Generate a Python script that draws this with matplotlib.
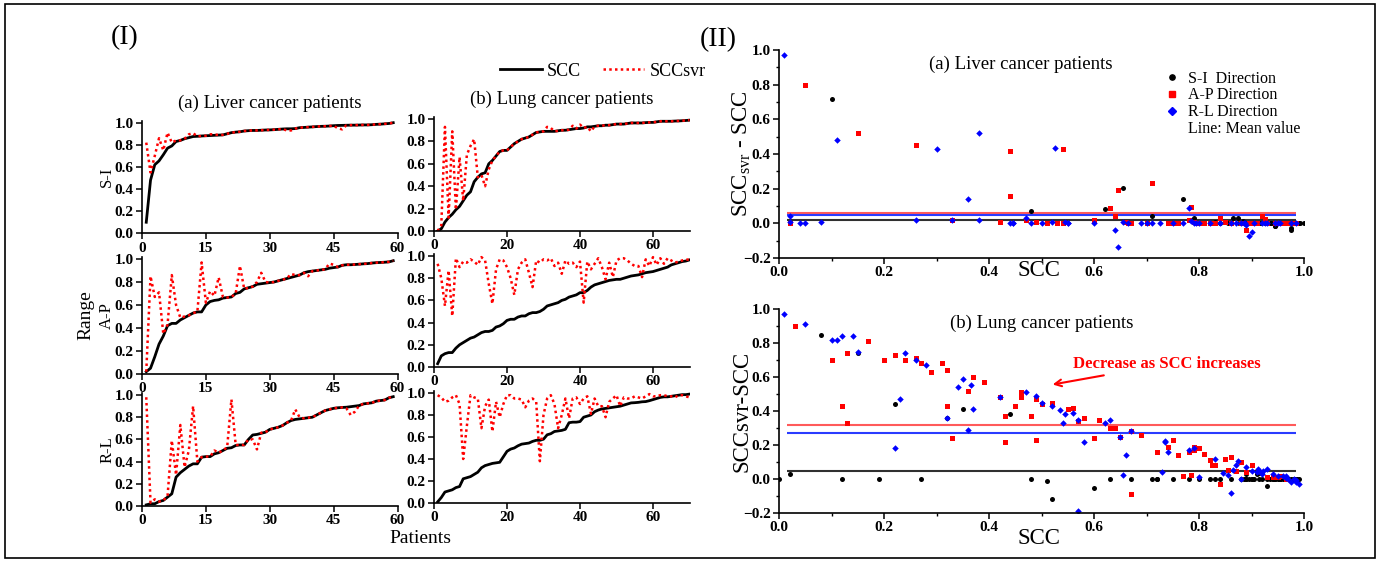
import numpy as np
import matplotlib
matplotlib.use('Agg')
import matplotlib.pyplot as plt
from matplotlib.lines import Line2D
from matplotlib.patches import Rectangle
from matplotlib.ticker import AutoMinorLocator, MultipleLocator

plt.rcParams['font.family'] = ['Liberation Serif', 'DejaVu Serif']
plt.rcParams['mathtext.fontset'] = 'custom'
plt.rcParams['mathtext.rm'] = 'Liberation Serif'

# ---- data: sorted SCC and SCCsvr per patient, per direction ----
liver_si_scc = [0.10, 0.48, 0.62, 0.655, 0.71, 0.77, 0.79, 0.83, 0.84, 0.855,
                0.865, 0.875, 0.877, 0.88, 0.882, 0.884, 0.886, 0.888, 0.89, 0.90,
                0.91, 0.915, 0.918, 0.925, 0.928, 0.93, 0.93, 0.932, 0.934, 0.935,
                0.937, 0.94, 0.943, 0.945, 0.945, 0.947, 0.955, 0.957, 0.96, 0.962,
                0.965, 0.967, 0.968, 0.97, 0.973, 0.975, 0.976, 0.977, 0.978, 0.978,
                0.979, 0.98, 0.98, 0.982, 0.985, 0.987, 0.99, 0.993, 1.0]
liver_si_svr = [0.82, 0.55, 0.70, 0.86, 0.75, 0.91, 0.82, 0.84, 0.84, 0.855,
                0.895, 0.905, 0.877, 0.88, 0.882, 0.895, 0.895, 0.888, 0.89, 0.90,
                0.91, 0.915, 0.918, 0.925, 0.928, 0.93, 0.93, 0.932, 0.934, 0.935,
                0.937, 0.94, 0.943, 0.93, 0.93, 0.947, 0.955, 0.957, 0.96, 0.962,
                0.965, 0.967, 0.968, 0.97, 0.973, 0.95, 0.94, 0.977, 0.978, 0.978,
                0.979, 0.98, 0.98, 0.982, 0.985, 0.987, 0.99, 0.993, 1.0]

liver_ap_scc = [0.02, 0.05, 0.15, 0.26, 0.33, 0.42, 0.44, 0.44, 0.47, 0.49,
                0.51, 0.53, 0.54, 0.54, 0.60, 0.63, 0.64, 0.645, 0.66, 0.665,
                0.67, 0.70, 0.71, 0.74, 0.75, 0.76, 0.78, 0.785, 0.79, 0.795,
                0.80, 0.81, 0.82, 0.83, 0.84, 0.85, 0.86, 0.88, 0.89, 0.895,
                0.90, 0.905, 0.91, 0.92, 0.925, 0.93, 0.945, 0.95, 0.95, 0.952,
                0.955, 0.958, 0.96, 0.965, 0.968, 0.97, 0.972, 0.975, 0.985]
liver_ap_svr = [0.02, 0.85, 0.67, 0.71, 0.35, 0.43, 0.86, 0.60, 0.49, 0.50,
                0.51, 0.53, 0.54, 0.97, 0.62, 0.72, 0.68, 0.84, 0.67, 0.665,
                0.67, 0.70, 0.94, 0.74, 0.75, 0.76, 0.80, 0.88, 0.80, 0.795,
                0.80, 0.81, 0.82, 0.83, 0.87, 0.86, 0.86, 0.88, 0.85, 0.895,
                0.90, 0.905, 0.91, 0.96, 0.95, 0.93, 0.945, 0.95, 0.95, 0.952,
                0.955, 0.958, 0.96, 0.965, 0.968, 0.97, 0.972, 0.975, 0.985]

liver_rl_scc = [0.01, 0.02, 0.02, 0.04, 0.05, 0.08, 0.11, 0.26, 0.30, 0.33,
                0.36, 0.38, 0.38, 0.44, 0.445, 0.445, 0.47, 0.48, 0.50, 0.52,
                0.525, 0.545, 0.55, 0.55, 0.60, 0.64, 0.645, 0.655, 0.665, 0.69,
                0.70, 0.71, 0.725, 0.75, 0.77, 0.78, 0.785, 0.79, 0.795, 0.80,
                0.82, 0.84, 0.86, 0.87, 0.88, 0.885, 0.888, 0.89, 0.895, 0.90,
                0.905, 0.92, 0.925, 0.93, 0.945, 0.95, 0.955, 0.975, 0.985]
liver_rl_svr = [0.98, 0.03, 0.06, 0.04, 0.05, 0.09, 0.59, 0.28, 0.73, 0.35,
                0.50, 0.90, 0.40, 0.44, 0.445, 0.445, 0.50, 0.48, 0.50, 0.53,
                0.96, 0.55, 0.55, 0.55, 0.60, 0.60, 0.51, 0.66, 0.665, 0.69,
                0.70, 0.71, 0.725, 0.75, 0.77, 0.87, 0.80, 0.79, 0.795, 0.80,
                0.82, 0.84, 0.86, 0.87, 0.88, 0.885, 0.888, 0.88, 0.82, 0.85,
                0.905, 0.92, 0.925, 0.93, 0.945, 0.95, 0.955, 0.975, 0.985]

lung_si_scc = [0.0, 0.02, 0.08, 0.12, 0.15, 0.19, 0.22, 0.27, 0.32, 0.35,
               0.44, 0.48, 0.51, 0.52, 0.60, 0.63, 0.67, 0.71, 0.72, 0.72,
               0.75, 0.78, 0.80, 0.82, 0.83, 0.84, 0.86, 0.88, 0.885, 0.89,
               0.89, 0.89, 0.89, 0.895, 0.90, 0.90, 0.905, 0.91, 0.915, 0.915,
               0.92, 0.93, 0.93, 0.935, 0.94, 0.94, 0.945, 0.945, 0.95, 0.955,
               0.955, 0.955, 0.96, 0.965, 0.965, 0.965, 0.965, 0.968, 0.97, 0.97,
               0.975, 0.98, 0.98, 0.98, 0.98, 0.982, 0.983, 0.985, 0.987, 0.99]
lung_si_svr = [0.0, 0.05, 0.93, 0.12, 0.89, 0.19, 0.66, 0.27, 0.68, 0.76,
               0.82, 0.48, 0.50, 0.40, 0.55, 0.63, 0.67, 0.71, 0.72, 0.72,
               0.75, 0.78, 0.80, 0.82, 0.83, 0.84, 0.86, 0.88, 0.885, 0.89,
               0.93, 0.92, 0.89, 0.895, 0.90, 0.90, 0.905, 0.94, 0.915, 0.95,
               0.92, 0.93, 0.89, 0.935, 0.94, 0.94, 0.945, 0.945, 0.95, 0.955,
               0.955, 0.955, 0.96, 0.965, 0.965, 0.965, 0.965, 0.968, 0.97, 0.97,
               0.975, 0.98, 0.98, 0.98, 0.98, 0.982, 0.983, 0.985, 0.987, 0.99]

lung_ap_scc = [0.03, 0.10, 0.12, 0.13, 0.13, 0.17, 0.20, 0.22, 0.24, 0.26,
               0.27, 0.29, 0.31, 0.32, 0.32, 0.33, 0.36, 0.37, 0.39, 0.42,
               0.43, 0.43, 0.45, 0.46, 0.46, 0.48, 0.49, 0.49, 0.50, 0.52,
               0.55, 0.56, 0.57, 0.58, 0.60, 0.61, 0.63, 0.64, 0.65, 0.67,
               0.67, 0.69, 0.72, 0.74, 0.75, 0.76, 0.77, 0.78, 0.785, 0.79,
               0.79, 0.80, 0.81, 0.82, 0.825, 0.83, 0.84, 0.85, 0.855, 0.86,
               0.87, 0.88, 0.89, 0.90, 0.92, 0.93, 0.94, 0.95, 0.955, 0.965]
lung_ap_svr = [0.93, 0.80, 0.55, 0.87, 0.46, 0.98, 0.90, 0.95, 0.94, 0.97,
               0.95, 0.92, 0.99, 0.96, 0.75, 0.57, 0.88, 0.97, 0.96, 0.90,
               0.80, 0.65, 0.88, 0.94, 0.97, 0.85, 0.72, 0.96, 0.94, 0.97,
               0.96, 0.98, 0.91, 0.94, 0.84, 0.96, 0.93, 0.94, 0.90, 0.95,
               0.58, 0.95, 0.88, 0.93, 0.98, 0.90, 0.79, 0.94, 0.81, 0.96,
               0.98, 0.98, 0.96, 0.93, 0.91, 0.91, 0.81, 0.97, 0.91, 0.99,
               0.92, 0.98, 0.93, 0.98, 0.96, 0.94, 0.95, 0.96, 0.97, 0.965]

lung_rl_scc = [0.01, 0.05, 0.10, 0.11, 0.12, 0.14, 0.15, 0.22, 0.23, 0.24,
               0.26, 0.28, 0.32, 0.34, 0.35, 0.36, 0.365, 0.37, 0.42, 0.47,
               0.49, 0.50, 0.52, 0.535, 0.54, 0.545, 0.56, 0.57, 0.57, 0.58,
               0.62, 0.63, 0.65, 0.655, 0.66, 0.67, 0.73, 0.735, 0.735, 0.74,
               0.78, 0.79, 0.80, 0.83, 0.845, 0.855, 0.86, 0.865, 0.87, 0.875,
               0.88, 0.89, 0.90, 0.91, 0.912, 0.915, 0.92, 0.922, 0.93, 0.94,
               0.95, 0.96, 0.965, 0.965, 0.97, 0.975, 0.98, 0.985, 0.985, 0.99]
lung_rl_svr = [0.98, 0.96, 0.92, 0.93, 0.96, 0.98, 0.90, 0.40, 0.70, 0.98,
               0.96, 0.95, 0.68, 0.88, 0.94, 0.65, 0.92, 0.78, 0.90, 0.98,
               0.98, 0.95, 0.95, 0.94, 0.87, 0.93, 0.95, 0.92, 0.38, 0.80,
               0.95, 0.98, 0.90, 0.68, 0.80, 0.95, 0.77, 0.95, 0.96, 0.90,
               0.95, 0.97, 0.81, 0.95, 0.88, 0.88, 0.78, 0.92, 0.95, 0.98,
               0.88, 0.96, 0.95, 0.95, 0.97, 0.96, 0.95, 0.97, 0.99, 0.97,
               0.97, 0.98, 0.98, 0.97, 0.97, 0.96, 0.98, 0.98, 0.97, 0.96]

row_labels = ['S-I', 'A-P', 'R-L']
dir_labels = ['S-I  Direction', 'A-P Direction', 'R-L Direction']
liver = [(liver_si_scc, liver_si_svr), (liver_ap_scc, liver_ap_svr), (liver_rl_scc, liver_rl_svr)]
lung = [(lung_si_scc, lung_si_svr), (lung_ap_scc, lung_ap_svr), (lung_rl_scc, lung_rl_svr)]

W, H = 1381, 562
fig = plt.figure(figsize=(W / 100, H / 100), dpi=100)


def px_axes(x0, x1, y_top, y_bot):
    return fig.add_axes([x0 / W, 1 - y_bot / H, (x1 - x0) / W, (y_bot - y_top) / H])


def style_axes(ax, size):
    for s in ['top', 'right']:
        ax.spines[s].set_visible(False)
    for s in ['left', 'bottom']:
        ax.spines[s].set_linewidth(1.2)
    ax.tick_params(direction='out', length=4, width=1.1, labelsize=size, pad=2)
    ax.tick_params(which='minor', direction='out', length=2.5, width=1)
    for t in ax.get_xticklabels() + ax.get_yticklabels():
        t.set_fontweight('bold')


# ---- panel (I) ----
liver_rows = [(120.5, 233.3), (256.7, 374), (392.8, 506)]
lung_rows = [(116.8, 231), (253.8, 367), (390.8, 503)]

for i in range(3):
    ax = px_axes(142, 397.5, *liver_rows[i])
    scc, svr = liver[i]
    x = np.arange(1, len(scc) + 1)
    ax.plot(x, scc, color='black', lw=2)
    ax.plot(x, svr, color='red', lw=1.8, ls=(0, (1, 1.3)))
    ax.set_xlim(0, 60)
    ax.set_ylim(0, 1.02)
    ax.set_xticks([0, 15, 30, 45, 60])
    ax.set_yticks(np.arange(0, 1.01, 0.2))
    ax.set_ylabel(row_labels[i], fontsize=12)
    ax.yaxis.set_label_coords(-0.105, 0.5)
    style_axes(ax, 11)
    if i == 0:
        ax.set_title('(a) Liver cancer patients', fontsize=13.5, pad=9)
    if i == 1:
        ax.text(-0.22, 0.5, 'Range', transform=ax.transAxes, rotation=90,
                fontsize=14, ha='center', va='center')
    if i == 2:
        ax.text(1.09, -0.29, 'Patients', transform=ax.transAxes, fontsize=14,
                ha='center', va='center')

    ax = px_axes(434, 689.5, *lung_rows[i])
    scc, svr = lung[i]
    x = np.arange(1, len(scc) + 1)
    l1, = ax.plot(x, scc, color='black', lw=2, label='SCC')
    l2, = ax.plot(x, svr, color='red', lw=1.8, ls=(0, (1, 1.3)), label='SCCsvr')
    ax.set_xlim(0, 70)
    ax.set_ylim(0, 1.02)
    ax.set_xticks([0, 20, 40, 60])
    ax.set_yticks(np.arange(0, 1.01, 0.2))
    style_axes(ax, 11)
    if i == 0:
        ax.set_title('(b) Lung cancer patients', fontsize=13.5, pad=9)
        fig.legend(handles=[l1, l2], loc='center', bbox_to_anchor=(603 / W, 1 - 71 / H),
                   ncol=2, frameon=False, fontsize=13, handlelength=2.3,
                   columnspacing=1.2, handletextpad=0.3)

fig.text(125 / W, 1 - 38 / H, '(I)', fontsize=20, ha='center', va='center')
fig.text(718 / W, 1 - 40 / H, '(II)', fontsize=20, ha='center', va='center')

# ---- panel (II) ----
colors = ['black', 'red', 'blue']
markers = ['o', 's', 'D']
line_cols = ['#303030', '#ff5a5a', '#2a3cff']


def diff_panel(ax, group):
    for k in range(3):
        scc = np.array(group[k][0])
        svr = np.array(group[k][1])
        d = svr - scc
        ax.plot(scc, d, ls='none', marker=markers[k], color=colors[k],
                ms=3.6 if k < 2 else 3.3, mew=0)
        ax.hlines(d.mean(), 0.015, 0.985, color=line_cols[k], lw=1.5, zorder=1)
    ax.set_xlim(0, 1.0)
    ax.set_ylim(-0.2, 1.0)
    ax.xaxis.set_major_locator(MultipleLocator(0.2))
    ax.yaxis.set_major_locator(MultipleLocator(0.2))
    ax.xaxis.set_minor_locator(AutoMinorLocator(2))
    ax.yaxis.set_minor_locator(AutoMinorLocator(2))
    style_axes(ax, 11)


ax = px_axes(779, 1304, 50, 258)
diff_panel(ax, liver)
ax.set_title('(a) Liver cancer patients', fontsize=13.5, x=0.46, y=0.87)
ax.set_ylabel('SCC$_{\\mathrm{svr}}$ - SCC', fontsize=16.5)
ax.yaxis.set_label_coords(-0.05, 0.5)
ax.set_xlabel('SCC', fontsize=16.5)
ax.xaxis.set_label_coords(0.495, -0.012)
handles = [Line2D([], [], ls='none', marker=markers[k], color=colors[k], ms=3.8)
           for k in range(3)]
handles.append(Line2D([], [], ls='none'))
ax.legend(handles, dir_labels + ['Line: Mean value'], loc='upper right',
          bbox_to_anchor=(1.02, 0.97), frameon=False, fontsize=11.5,
          labelspacing=0.05, handlelength=0.8, handletextpad=0.6)

ax = px_axes(779, 1304, 309, 513)
diff_panel(ax, lung)
ax.set_title('(b) Lung cancer patients', fontsize=13.5, x=0.5, y=0.865)
ax.set_ylabel('SCCsvr-SCC', fontsize=16.5)
ax.yaxis.set_label_coords(-0.05, 0.5)
ax.set_xlabel('SCC', fontsize=16.5)
ax.xaxis.set_label_coords(0.495, -0.075)
ax.annotate('Decrease as SCC increases', xy=(0.516, 0.553), xytext=(0.56, 0.676),
            color='red', fontsize=12, fontweight='bold', va='center',
            arrowprops=dict(arrowstyle='->', color='red', lw=1.5))

fig.patches.append(Rectangle((5 / W, 4 / H), 1370 / W, 554 / H, transform=fig.transFigure,
                             fill=False, edgecolor='black', lw=1.2))

fig.savefig('out.png', dpi=100)
